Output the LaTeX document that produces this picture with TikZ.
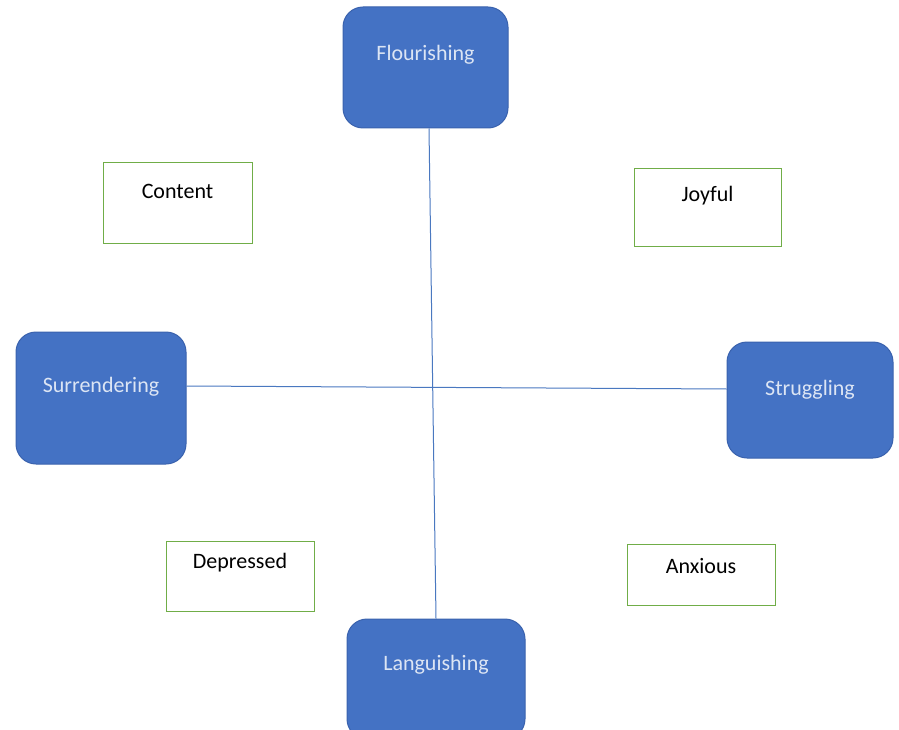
\documentclass[tikz,border=0pt]{standalone}
\usepackage{fontspec}
\setmainfont{Carlito}
\definecolor{boxblue}{HTML}{4472C4}
\definecolor{boxedge}{HTML}{3A62AD}
\definecolor{lightt}{HTML}{DCE5F4}
\definecolor{lineblue}{HTML}{4A78C0}
\definecolor{gedge}{HTML}{70AD47}
\tikzset{
  bluebox/.style={draw=boxedge, line width=1pt, fill=boxblue, rounded corners=20pt, inner sep=0pt},
  greenbox/.style={draw=gedge, line width=1pt, fill=white, inner sep=0pt},
  btext/.style={text=lightt, font=\fontsize{22}{26}\selectfont, inner sep=0pt},
  gtext/.style={text=black, font=\fontsize{22}{26}\selectfont, inner sep=0pt},
  conn/.style={draw=lineblue, line width=1pt}
}
\begin{document}
\begin{tikzpicture}[x=1pt,y=-1pt]
\useasboundingbox (0,0) rectangle (899,730);
\clip (0,0) rectangle (899,730);
% blue boxes
\node[bluebox, minimum width=165pt, minimum height=121pt] (flo) at (425.5,67.5) {};
\node[bluebox, minimum width=170pt, minimum height=132pt] (sur) at (101,398) {};
\node[bluebox, minimum width=166pt, minimum height=116pt] (str) at (810,400) {};
\node[bluebox, minimum width=178pt, minimum height=120pt] (lan) at (436,679) {};
% connectors
\draw[conn] ([xshift=3.5pt]flo.south) -- (lan.north);
\draw[conn] ([yshift=12pt]sur.east) -- ([yshift=11pt]str.west);
% blue texts
\node[btext] (floT) at ([yshift=12.5pt]flo.center) {Flourishing};
\node[btext] (surT) at ([yshift=11pt]sur.center) {Surrendering};
\node[btext] (strT) at ([yshift=10pt]str.center) {Struggling};
\node[btext] (lanT) at ([yshift=14pt]lan.center) {Languishing};
% green boxes
\node[greenbox, minimum width=149pt, minimum height=80pt] (con) at (177.5,203) {};
\node[greenbox, minimum width=147pt, minimum height=77pt] (joy) at (707.5,207.5) {};
\node[greenbox, minimum width=148pt, minimum height=70pt] (dep) at (240,576) {};
\node[greenbox, minimum width=148pt, minimum height=61pt] (anx) at (701,574.5) {};
\node[gtext] (conT) at ([yshift=-29pt]con.north) {Content};
\node[gtext] (joyT) at ([yshift=-27pt]joy.north) {Joyful};
\node[gtext] (depT) at ([yshift=-22pt]dep.north) {Depressed};
\node[gtext] (anxT) at ([yshift=-23pt]anx.north) {Anxious};
\end{tikzpicture}
\end{document}
